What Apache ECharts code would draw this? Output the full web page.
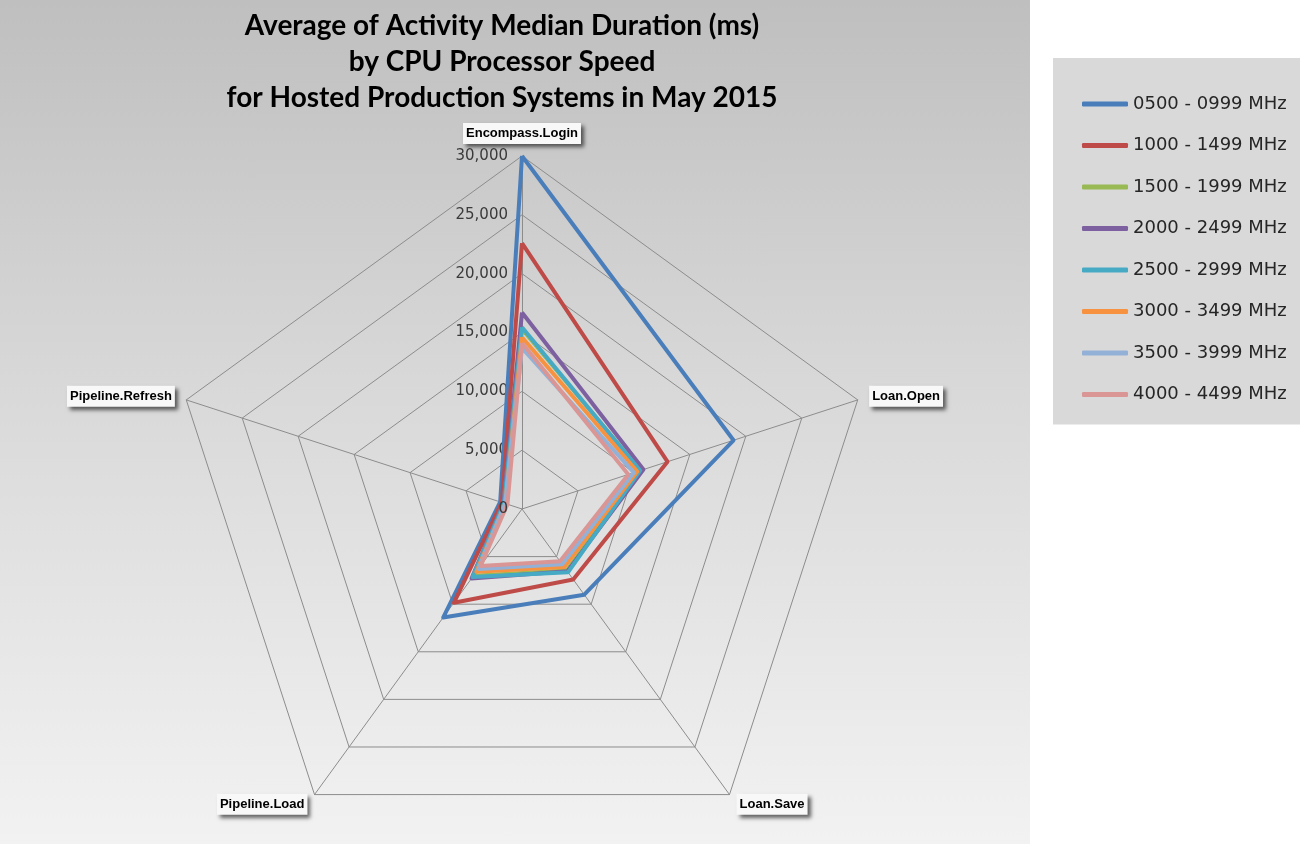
<!DOCTYPE html>
<html>
<head>
<meta charset="utf-8">
<title>Average of Activity Median Duration by CPU Processor Speed</title>
<script src="https://cdn.jsdelivr.net/npm/echarts@6/dist/echarts.min.js"></script>
<style>
  html, body { margin: 0; padding: 0; background: #ffffff; }
  #panel {
    position: absolute; left: 0; top: 0; width: 1030px; height: 844px;
    background: linear-gradient(to bottom, #bfbfbf 0%, #d8d8d8 45%, #f2f2f2 100%);
  }
  #chart { position: absolute; left: 0; top: 0; width: 1300px; height: 844px; }
</style>
</head>
<body>
<div id="panel"></div>
<div id="chart"></div>
<script>
// Activities, in the order they are laid out round the radar (top, then counter-clockwise)
const categories = ['Encompass.Login', 'Pipeline.Refresh', 'Pipeline.Load', 'Loan.Save', 'Loan.Open'];
const axisMin = 0;
const axisMax = 30000;

// Average median duration (ms) per activity, one list per CPU speed band
const speedBands = ['0500 - 0999 MHz', '1000 - 1499 MHz', '1500 - 1999 MHz', '2000 - 2499 MHz',
                    '2500 - 2999 MHz', '3000 - 3499 MHz', '3500 - 3999 MHz', '4000 - 4499 MHz'];
const mhz0500 = [30000, 1950, 11400, 9000, 18900];
const mhz1000 = [22600, 1800, 9850, 7400, 13000];
const mhz1500 = [15300, 1650, 7000, 6450, 10600];
const mhz2000 = [16700, 1650, 7300, 6550, 10850];
const mhz2500 = [15450, 1600, 7150, 6650, 10550];
const mhz3000 = [14600, 1500, 6600, 6100, 10300];
const mhz3500 = [13700, 1500, 6300, 5800, 10000];
const mhz4000 = [14100, 1300, 6000, 5500, 9500];
const bandValues = [mhz0500, mhz1000, mhz1500, mhz2000, mhz2500, mhz3000, mhz3500, mhz4000];

const bandColors = ['#4a7ebb', '#be4b48', '#98b954', '#7d60a0', '#46aac5', '#f69240', '#93b1d6', '#d99694'];

// radar geometry
const radarCenter = [522, 509];
const radarRadius = 353;
const scaleLabelMargin = 14;
const scaleLabelStyle = { fontFamily: 'DejaVu Sans', fontSize: 15, color: '#3a3a3a' };

const chart = echarts.init(document.getElementById('chart'), null, { renderer: 'canvas' });

const indicator = categories.map(function (name, i) {
  const ind = { name: name, min: axisMin, max: axisMax };
  if (i === 0) {
    // value scale is labelled only along the top spoke
    ind.axisLabel = Object.assign({
      show: true,
      showMinLabel: true,
      showMaxLabel: true,
      hideOverlap: false,
      margin: scaleLabelMargin
    }, scaleLabelStyle);
  }
  return ind;
});

const series = speedBands.map(function (band, i) {
  return {
    name: band,
    type: 'radar',
    symbol: 'none',
    color: bandColors[i],
    lineStyle: { width: 4, color: bandColors[i] },
    emphasis: { disabled: true },
    data: [{ name: band, value: bandValues[i] }]
  };
});

chart.setOption({
  animation: false,
  title: {
    text: 'Average of Activity Median Duration (ms)\nby CPU Processor Speed\nfor Hosted Production Systems in May 2015',
    left: 497,
    top: 3,
    textAlign: 'center',
    textStyle: {
      fontFamily: 'Lato',
      fontWeight: 'bold',
      fontSize: 28,
      lineHeight: 36,
      color: '#000000'
    }
  },
  legend: {
    orient: 'vertical',
    left: 1053,
    top: 58,
    padding: [36, 22, 20, 29],
    backgroundColor: '#d9d9d9',
    icon: 'roundRect',
    itemWidth: 46,
    itemHeight: 5,
    itemGap: 21.5,
    selectedMode: false,
    textStyle: {
      fontFamily: 'DejaVu Sans',
      fontSize: 18,
      lineHeight: 20,
      color: '#262626'
    },
    data: speedBands
  },
  radar: {
    center: radarCenter,
    radius: radarRadius,
    startAngle: 90,
    splitNumber: 6,
    shape: 'polygon',
    indicator: indicator,
    axisName: {
      color: '#000000',
      fontFamily: 'Liberation Sans',
      fontWeight: 'bold',
      fontSize: 13,
      backgroundColor: '#f8f8f8',
      padding: [4, 3, 4, 3],
      shadowColor: 'rgba(0,0,0,0.6)',
      shadowBlur: 4,
      shadowOffsetX: 3,
      shadowOffsetY: 3
    },
    nameGap: 12,
    axisLine: { lineStyle: { color: '#8c8c8c', width: 1 } },
    axisTick: { show: false },
    axisLabel: { show: false },
    splitLine: { lineStyle: { color: '#8c8c8c', width: 1 } },
    splitArea: { show: false }
  },
  // the scale's origin label sits at the radar centre
  graphic: [{
    type: 'text',
    x: radarCenter[0] - scaleLabelMargin,
    y: radarCenter[1],
    silent: true,
    z: 10,
    style: {
      text: echarts.format.addCommas(axisMin),
      align: 'right',
      verticalAlign: 'middle',
      font: scaleLabelStyle.fontSize + 'px "' + scaleLabelStyle.fontFamily + '"',
      fill: scaleLabelStyle.color
    }
  }],
  series: series
});
</script>
</body>
</html>
